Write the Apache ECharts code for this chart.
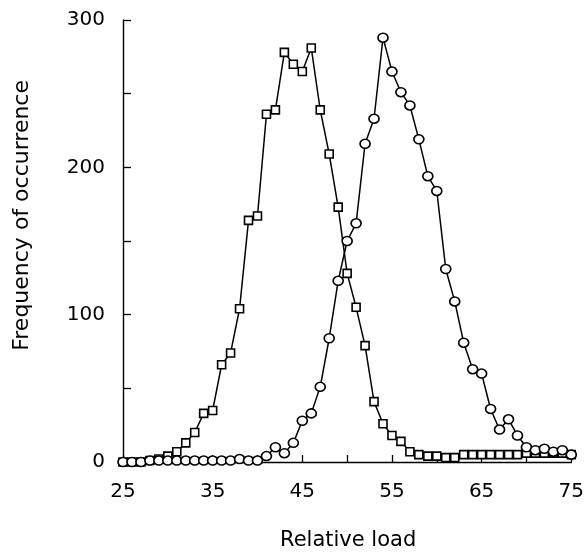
<!DOCTYPE html>
<html>
<head>
<meta charset="utf-8">
<script src="https://cdn.jsdelivr.net/npm/echarts@6/dist/echarts.min.js"></script>
<style>
html,body{margin:0;padding:0;background:#fff;}
#chart{width:587px;height:553px;}
</style>
</head>
<body>
<div id="chart"></div>
<script>
// Relative load (x values)
const loads = [25,26,27,28,29,30,31,32,33,34,35,36,37,38,39,40,41,42,43,44,45,46,47,48,49,50,
               51,52,53,54,55,56,57,58,59,60,61,62,63,64,65,66,67,68,69,70,71,72,73,74,75];
// Squares series (frequency of occurrence)
const squares = [0,0,0,1,2,4,7,13,20,33,35,66,74,104,164,167,236,239,278,270,265,281,239,209,173,128,
                 105,79,41,26,18,14,7,5,4,4,3,3,5,5,5,5,5,5,5,6,6,6,6,6,5];
// Circles series (frequency of occurrence)
const circles = [0,0,0,1,1,1,1,1,1,1,1,1,1,2,1,1,4,10,6,13,28,33,51,84,123,150,
                 162,216,233,288,265,251,242,219,194,184,131,109,81,63,60,36,22,29,18,10,8,9,7,8,5];
// Axis ticks
const yTicks = [0,100,200,300];
const xTicks = [25,35,45,55,65,75];

const FONT = 'DejaVu Sans';
const chart = echarts.init(document.getElementById('chart'), null, {renderer:'canvas'});

function pairs(vals){ return loads.map((x,i)=>[x, vals[i]]); }

const option = {
  backgroundColor:'#fff',
  animation:false,
  grid:{left:123, right:14, top:20, bottom:91},
  xAxis:{
    type:'value', min:25, max:75, interval:5,
    axisLine:{lineStyle:{color:'#000', width:1.4}},
    axisTick:{inside:true, length:7, lineStyle:{color:'#000', width:1.3}},
    splitLine:{show:false},
    axisLabel:{
      margin:20, color:'#000', fontFamily:FONT, fontSize:20,
      formatter:v=> xTicks.indexOf(v)>=0 ? String(v) : ''
    }
  },
  yAxis:{
    type:'value', min:0, max:300, interval:50,
    axisLine:{show:true, lineStyle:{color:'#000', width:1.4}},
    axisTick:{show:true, inside:true, length:8, lineStyle:{color:'#000', width:1.3}},
    splitLine:{show:false},
    axisLabel:{
      margin:18, color:'#000', fontFamily:FONT, fontSize:20,
      formatter:v=> yTicks.indexOf(v)>=0 ? String(v) : ''
    }
  },
  graphic:[
    {type:'text', left:11, top:80, rotation:Math.PI/2,
     style:{text:'Frequency of occurrence', fill:'#000', font:'22px "DejaVu Sans"'}},
    {type:'text', left:280, top:530,
     style:{text:'Relative load', fill:'#000', font:'21px "DejaVu Sans"'}}
  ],
  series:[
    {type:'line', name:'squares', data:pairs(squares),
     symbol:'rect', symbolSize:8, showAllSymbol:true,
     lineStyle:{color:'#000', width:1.5},
     itemStyle:{color:'#fff', borderColor:'#000', borderWidth:1.6}, z:2},
    {type:'line', name:'circles', data:pairs(circles),
     symbol:'circle', symbolSize:[10,9], showAllSymbol:true,
     lineStyle:{color:'#000', width:1.5},
     itemStyle:{color:'#fff', borderColor:'#000', borderWidth:1.6}, z:3}
  ]
};
chart.setOption(option);
</script>
</body>
</html>
